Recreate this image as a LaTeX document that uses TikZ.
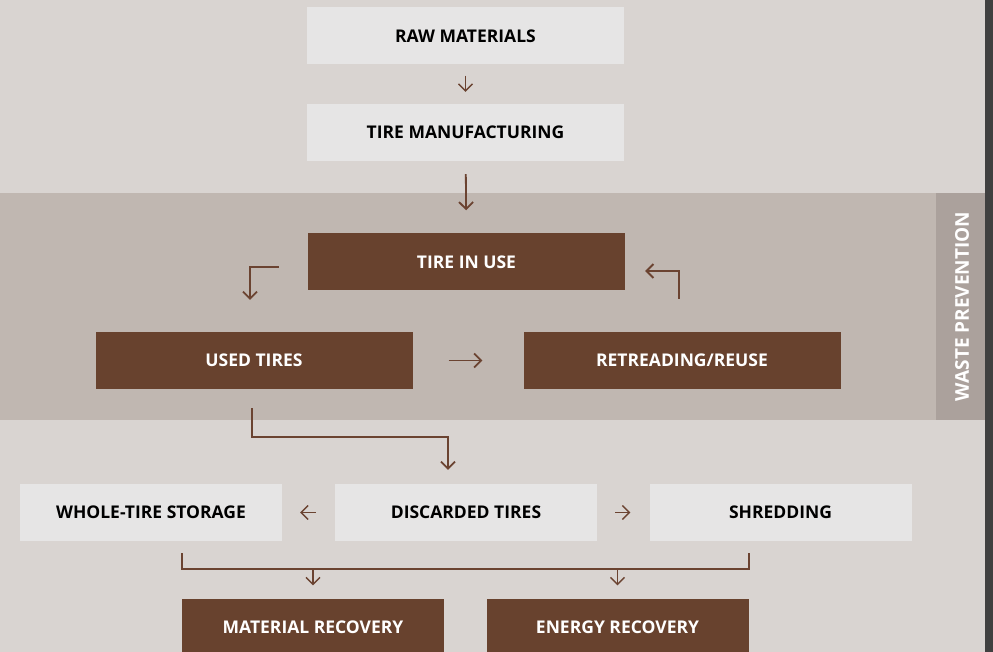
\documentclass[tikz,border=0pt]{standalone}
\usepackage{fontspec}
\setmainfont{Open Sans}
\usepackage{tikz}
\usetikzlibrary{arrows.meta,positioning,calc}

\definecolor{bgcol}{HTML}{D9D4D1}
\definecolor{bandcol}{HTML}{C0B7B1}
\definecolor{stripcol}{HTML}{ABA19C}
\definecolor{lightbox}{HTML}{E6E5E5}
\definecolor{tirebrown}{HTML}{68422E}
\definecolor{arrbrown}{HTML}{6B4331}

\begin{document}
\begin{tikzpicture}[x=1pt, y=-1pt,
  lightblk/.style={fill=lightbox, rectangle, minimum width=317pt,
    minimum height=57pt, align=center, inner sep=0pt,
    font=\bfseries\fontsize{17.5}{20}\selectfont},
  brownblk/.style={lightblk, fill=tirebrown, text=white},
  narrow/.style={minimum width=262pt},
  ar/.style={-{Straight Barb[length=7pt,width=14pt]}, draw=arrbrown, line width=1.8pt},
  arsm/.style={ar, line width=1.4pt},
  brline/.style={draw=arrbrown, line width=2pt},
]
\useasboundingbox (0,0) rectangle (993,652);

%--- background ---
\fill[bgcol] (0,0) rectangle (993,652);
\fill[bandcol] (0,193) rectangle (936,420);
\fill[stripcol] (936,193) rectangle (985,420);
\fill[black!75] (985,0) rectangle (993,652);
\node[rotate=90, text=white, font=\bfseries\fontsize{19}{22}\selectfont] (waste) at (962,306.5) {WASTE PREVENTION};

%--- top chain ---
\node[lightblk] (raw)   at (465.5, 36)    {RAW MATERIALS};
\node[lightblk] (manuf) at (465.5, 132.5) {TIRE MANUFACTURING};

%--- waste prevention band ---
\node[brownblk] (inuse)   at (466.5, 262)   {TIRE IN USE};
\node[brownblk] (used)    at (254, 360.5)   {USED TIRES};
\node[brownblk] (retread) at (682, 360.5)   {RETREADING/REUSE};

%--- discarded row ---
\node[lightblk, narrow] (storage)   at (151, 512.5)   {WHOLE-TIRE STORAGE};
\node[lightblk, narrow] (discarded) at (466, 512.5)   {DISCARDED TIRES};
\node[lightblk, narrow] (shred)     at (780.5, 512.5) {SHREDDING};

%--- recovery ---
\node[brownblk, narrow] (matrec) at (313, 627)   {MATERIAL RECOVERY};
\node[brownblk, narrow] (energy) at (617.5, 627) {ENERGY RECOVERY};

%--- arrows ---
\draw[arsm, shorten <=11pt, shorten >=12pt] (raw) -- (manuf);
\draw[ar, shorten <=13pt, shorten >=23pt] (manuf) -- (inuse);
\draw[ar] ([xshift=-29pt, yshift=-5pt]inuse.west) -| ([xshift=-4pt, yshift=32pt]used.north);
\draw[ar] ([xshift=-3pt, yshift=33pt]retread.north) |- ([xshift=20pt, yshift=-9pt]inuse.east);
\draw[ar, shorten <=36pt, shorten >=41pt] (used) -- (retread);
\draw[ar] ([xshift=-2pt, yshift=-19pt]used.south) -- ++(0,29) -| ([xshift=-18pt, yshift=14pt]discarded.north);
\draw[arsm, shorten <=19pt, shorten >=18pt] (discarded) -- (storage);
\draw[arsm, shorten <=18pt, shorten >=19pt] (discarded) -- (shred);

%--- bracket to recovery ---
\draw[brline] ([yshift=45pt]matrec.north west) |- ([yshift=29pt]energy.north east) -- ([yshift=45pt]energy.north east);
\draw[arsm, shorten >=13pt] ([yshift=29pt]matrec.north) -- (matrec.north);
\draw[arsm, shorten >=13pt] ([yshift=29pt]energy.north) -- (energy.north);

\end{tikzpicture}
\end{document}
